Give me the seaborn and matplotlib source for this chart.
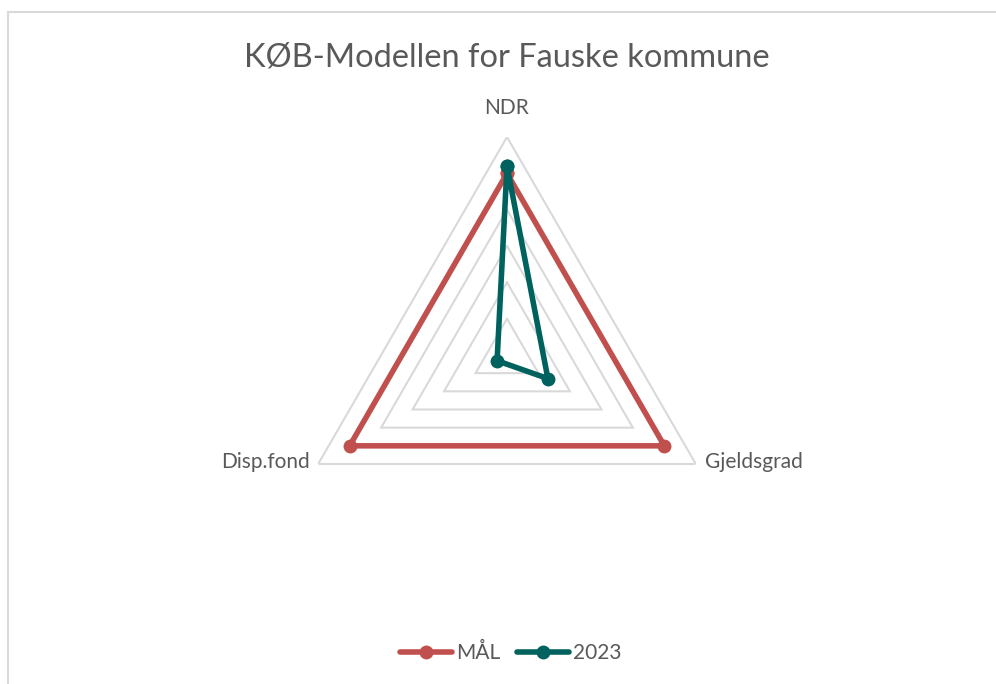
import numpy as np
import pandas as pd
import matplotlib
matplotlib.use("Agg")
import matplotlib.pyplot as plt
from matplotlib.patches import Rectangle
from matplotlib.lines import Line2D
import seaborn as sns

# ---- data ----
categories = ["NDR", "Gjeldsgrad", "Disp.fond"]
maal_values = [1.0, 1.0, 1.0]
y2023_values = [1.04, 0.26, 0.063]
series_names = ["MÅL", "2023"]
grid_levels = [0.2, 0.4, 0.6, 0.8, 1.0, 1.2]
title_text = "KØB-Modellen for Fauske kommune"

sns.set_theme(style="white")
plt.rcParams["font.family"] = ["Lato", "DejaVu Sans"]

RED = "#C0504D"
TEAL = "#00625E"
GRID = "#D9D9D9"
TXT = "#595959"

W, H = 996, 684
fig = plt.figure(figsize=(W / 100, H / 100), dpi=100)
fig.patch.set_facecolor("white")

# chart frame (light border, extends past right/bottom edge)
fig.add_artist(Rectangle((8 / W, -0.1), 1.2, 1 - 12 / H + 0.1,
                         transform=fig.transFigure, fill=False,
                         edgecolor=GRID, linewidth=1.5))

cx, cy, R = 507, 355, 218
ax = fig.add_axes([(cx - R) / W, (H - cy - R) / H, 2 * R / W, 2 * R / H],
                  projection="polar")
ax.set_theta_offset(np.pi / 2)
ax.set_theta_direction(-1)
ax.set_facecolor("none")

n = len(categories)
thetas = [2 * np.pi * i / n for i in range(n)]

# triangular grid rings
for lvl in grid_levels:
    ax.plot(thetas + [thetas[0]], [lvl] * (n + 1), color=GRID,
            linewidth=1.5, zorder=1, solid_joinstyle="miter")

rows = []
for name, vals in zip(series_names, [maal_values, y2023_values]):
    for i in list(range(n)) + [0]:
        rows.append({"theta": thetas[i], "value": vals[i], "series": name})
df = pd.DataFrame(rows)

LW, MS = 4.0, 10
sns.lineplot(data=df, x="theta", y="value", hue="series",
             palette={"MÅL": RED, "2023": TEAL}, hue_order=series_names,
             sort=False, estimator=None, marker="o", markersize=MS,
             markeredgewidth=0, linewidth=LW, ax=ax, legend=False, zorder=3)

ax.set_ylim(0, 1.2)
ax.grid(False)
ax.spines["polar"].set_visible(False)
ax.set_xticks([])
ax.set_yticks([])
ax.set_xlabel("")
ax.set_ylabel("")

# category labels
label_fs = 15
ax.annotate(categories[0], xy=(thetas[0], 1.2), xytext=(0, 29),
            textcoords="offset pixels", ha="center", va="center",
            fontsize=label_fs, color=TXT)
ax.annotate(categories[1], xy=(thetas[1], 1.2), xytext=(9, 2),
            textcoords="offset pixels", ha="left", va="center",
            fontsize=label_fs, color=TXT)
ax.annotate(categories[2], xy=(thetas[2], 1.2), xytext=(-8, 2),
            textcoords="offset pixels", ha="right", va="center",
            fontsize=label_fs, color=TXT)

fig.text(507 / W, 1 - 57 / H, title_text, ha="center", va="center",
         fontsize=23.5, color=TXT)

handles = [Line2D([], [], color=c, linewidth=LW, marker="o", markersize=MS,
                  markeredgewidth=0) for c in (RED, TEAL)]
fig.legend(handles, series_names, loc="center", bbox_to_anchor=(511 / W, 1 - 653 / H),
           ncol=2, frameon=False, fontsize=15, labelcolor=TXT,
           handlelength=2.5, handletextpad=0.2, columnspacing=0.8)

fig.savefig("out.png", dpi=100, facecolor="white")
